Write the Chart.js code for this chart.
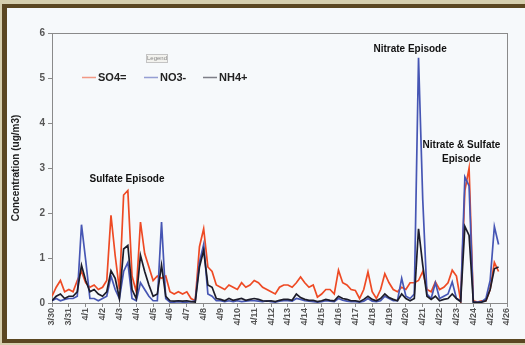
<!DOCTYPE html>
<html>
<head>
<meta charset="utf-8">
<script src="https://cdn.jsdelivr.net/npm/chart.js@4.4.1/dist/chart.umd.min.js"></script>
<style>
  html, body { margin: 0; padding: 0; background: #d6cfae; overflow: hidden; }
  #wrap { width: 525px; height: 345px; }
  canvas { display: block; }
</style>
</head>
<body>
<div id="wrap"><canvas id="chart" width="525" height="345"></canvas></div>
<script>
// x axis: one label per day, samples every 6 hours
const dayLabels = ['3/30', '3/31', '4/1', '4/2', '4/3', '4/4', '4/5', '4/6', '4/7', '4/8',
  '4/9', '4/10', '4/11', '4/12', '4/13', '4/14', '4/15', '4/16', '4/17', '4/18',
  '4/19', '4/20', '4/21', '4/22', '4/23', '4/24', '4/25', '4/26'];
const sampleStep = 0.25; // days

const so4 = [
  0.15, 0.35, 0.5, 0.25,   0.3, 0.25, 0.5, 0.7,     0.45, 0.35, 0.4, 0.3,
  0.35, 0.5, 1.95, 1.05,   0.3, 2.4, 2.5, 0.6,      0.25, 1.8, 1.1, 0.8,
  0.5, 0.6, 0.55, 0.6,     0.25, 0.2, 0.25, 0.2,    0.25, 0.1, 0.05, 1.25,
  1.65, 0.8, 0.7, 0.4,     0.35, 0.3, 0.4, 0.35,    0.3, 0.45, 0.35, 0.4,
  0.5, 0.45, 0.35, 0.3,    0.25, 0.2, 0.35, 0.4,    0.4, 0.35, 0.45, 0.58,
  0.45, 0.35, 0.4, 0.13,   0.2, 0.3, 0.3, 0.2,      0.73, 0.45, 0.4, 0.3,
  0.28, 0.1, 0.3, 0.69,    0.25, 0.1, 0.3, 0.65,    0.45, 0.3, 0.25, 0.35,
  0.3, 0.45, 0.45, 0.5,    0.7, 0.3, 0.25, 0.47,    0.3, 0.35, 0.45, 0.73,
  0.6, 0.05, 2.5, 3.0,     0.05, 0.02, 0.05, 0.05,  0.3, 0.9, 0.7
];
const no3 = [
  0.05, 0.1, 0.05, 0.08,   0.1, 0.1, 0.15, 1.74,    0.95, 0.1, 0.1, 0.05,
  0.1, 0.15, 0.6, 0.3,     0.1, 0.7, 0.9, 0.1,      0.05, 0.45, 0.3, 0.15,
  0.05, 0.05, 1.8, 0.1,    0.02, 0.02, 0.03, 0.02,  0.02, 0.03, 0.05, 0.9,
  1.3, 0.2, 0.15, 0.05,    0.05, 0.03, 0.05, 0.03,  0.05, 0.03, 0.04, 0.05,
  0.05, 0.04, 0.03, 0.05,  0.03, 0.02, 0.04, 0.05,  0.05, 0.04, 0.1, 0.08,
  0.05, 0.04, 0.03, 0.02,  0.03, 0.05, 0.04, 0.03,  0.1, 0.06, 0.04, 0.03,
  0.03, 0.02, 0.04, 0.1,   0.04, 0.03, 0.05, 0.15,  0.1, 0.05, 0.05, 0.55,
  0.15, 0.1, 0.2, 5.45,    2.3, 0.2, 0.1, 0.45,     0.1, 0.15, 0.2, 0.47,
  0.1, 0.05, 2.8, 2.6,     0.02, 0.02, 0.03, 0.1,   0.5, 1.7, 1.3
];
const nh4 = [
  0.05, 0.15, 0.2, 0.1,    0.15, 0.15, 0.25, 0.84,  0.5, 0.25, 0.3, 0.2,
  0.15, 0.25, 0.72, 0.55,  0.1, 1.2, 1.28, 0.3,     0.1, 1.06, 0.7, 0.4,
  0.15, 0.2, 0.84, 0.15,   0.05, 0.04, 0.05, 0.04,  0.05, 0.03, 0.02, 0.8,
  1.17, 0.4, 0.35, 0.1,    0.08, 0.05, 0.1, 0.06,   0.08, 0.1, 0.06, 0.08,
  0.1, 0.08, 0.05, 0.04,   0.05, 0.03, 0.06, 0.08,  0.08, 0.06, 0.2, 0.12,
  0.08, 0.06, 0.06, 0.03,  0.05, 0.08, 0.06, 0.05,  0.15, 0.1, 0.08, 0.05,
  0.05, 0.03, 0.08, 0.15,  0.08, 0.05, 0.1, 0.2,    0.12, 0.08, 0.05, 0.2,
  0.1, 0.05, 0.1, 1.65,    0.84, 0.15, 0.08, 0.15,  0.05, 0.08, 0.1, 0.2,
  0.1, 0.03, 1.7, 1.5,     0.02, 0.01, 0.02, 0.05,  0.3, 0.76, 0.8
];

const seriesNames = ['SO4=', 'NO3-', 'NH4+'];
const seriesColors = ['#ee4a24', '#4656b4', '#1c1c2a'];

// text notes, placed at (day, value)
const notes = [
  { text: 'Sulfate Episode', day: 4.45, value: 2.76 },
  { text: 'Nitrate Episode', day: 21.25, value: 5.64 },
  { text: 'Nitrate & Sulfate', day: 24.3, value: 3.5 },
  { text: 'Episode', day: 24.3, value: 3.2 }
];

const toPoints = (arr) => arr.map((v, i) => ({ x: i * sampleStep, y: v }));

const framePlugin = {
  id: 'frame',
  beforeDraw(chart) {
    const ctx = chart.ctx;
    ctx.save();
    ctx.fillStyle = '#d6cfae';
    ctx.fillRect(0, 0, 525, 345);
    ctx.fillStyle = '#5b4722';
    ctx.fillRect(2, 4, 523, 339);
    ctx.fillStyle = '#f6f9fb';
    ctx.fillRect(7, 8, 518, 331);
    ctx.restore();
  },
  beforeDatasetsDraw(chart) {
    const { ctx, chartArea } = chart;
    ctx.save();
    ctx.strokeStyle = '#8a8a8a';
    ctx.lineWidth = 1;
    ctx.strokeRect(chartArea.left + 0.5, chartArea.top + 0.5,
      chartArea.right - chartArea.left, chartArea.bottom - chartArea.top);
    ctx.restore();
  },
  afterDatasetsDraw(chart) {
    const { ctx, scales } = chart;
    ctx.save();

    // legend inside the plot
    ctx.fillStyle = '#f2f2ee';
    ctx.strokeStyle = '#c4c4c4';
    ctx.fillRect(146.5, 54.5, 21, 8);
    ctx.strokeRect(146.5, 54.5, 21, 8);
    ctx.fillStyle = '#888';
    ctx.font = '6px "Liberation Sans"';
    ctx.textAlign = 'center';
    ctx.textBaseline = 'middle';
    ctx.fillText('Legend', 157, 58.5);

    const legendX = [82, 144, 203];
    ctx.font = 'bold 11px "Liberation Sans"';
    ctx.textAlign = 'left';
    seriesNames.forEach((name, i) => {
      ctx.strokeStyle = seriesColors[i];
      ctx.globalAlpha = 0.55;
      ctx.lineWidth = 1.5;
      ctx.beginPath();
      ctx.moveTo(legendX[i], 77.5);
      ctx.lineTo(legendX[i] + 14, 77.5);
      ctx.stroke();
      ctx.globalAlpha = 1;
      ctx.fillStyle = '#222';
      ctx.fillText(name, legendX[i] + 16, 78);
    });

    ctx.font = 'bold 10px "Liberation Sans"';
    ctx.textAlign = 'center';
    ctx.fillStyle = '#111';
    notes.forEach((n) => {
      ctx.fillText(n.text, scales.x.getPixelForValue(n.day), scales.y.getPixelForValue(n.value));
    });
    ctx.restore();
  }
};

new Chart(document.getElementById('chart'), {
  type: 'line',
  data: {
    datasets: [
      { label: seriesNames[0], data: toPoints(so4), borderColor: seriesColors[0], order: 3 },
      { label: seriesNames[1], data: toPoints(no3), borderColor: seriesColors[1], order: 2 },
      { label: seriesNames[2], data: toPoints(nh4), borderColor: seriesColors[2], order: 1 }
    ]
  },
  options: {
    responsive: false,
    animation: false,
    layout: { padding: { left: 0, right: 18, top: 33, bottom: 0 } },
    elements: {
      point: { radius: 0 },
      line: { borderWidth: 1.7, tension: 0 }
    },
    plugins: {
      legend: { display: false },
      tooltip: { enabled: false }
    },
    scales: {
      x: {
        type: 'linear',
        min: 0,
        max: dayLabels.length - 1,
        afterFit(scale) { scale.height = 42; },
        grid: { drawOnChartArea: false, tickLength: 4, color: '#8a8a8a' },
        border: { color: '#8a8a8a' },
        ticks: {
          stepSize: 1,
          autoSkip: false,
          minRotation: 90,
          maxRotation: 90,
          padding: 1,
          color: '#555',
          font: { family: 'Liberation Sans', size: 9, weight: 'bold' },
          callback: (v) => dayLabels[v]
        }
      },
      y: {
        min: 0,
        max: 6,
        afterFit(scale) { scale.width = 52; },
        grid: { drawOnChartArea: false, tickLength: 4, color: '#8a8a8a' },
        border: { color: '#8a8a8a' },
        ticks: {
          stepSize: 1,
          padding: 3,
          color: '#555',
          font: { family: 'Liberation Sans', size: 10, weight: 'bold' }
        },
        title: {
          display: true,
          text: 'Concentration (ug/m3)',
          color: '#222',
          padding: { top: 10, bottom: 0 },
          font: { family: 'Liberation Sans', size: 10, weight: 'bold' }
        }
      }
    }
  },
  plugins: [framePlugin]
});
</script>
</body>
</html>
